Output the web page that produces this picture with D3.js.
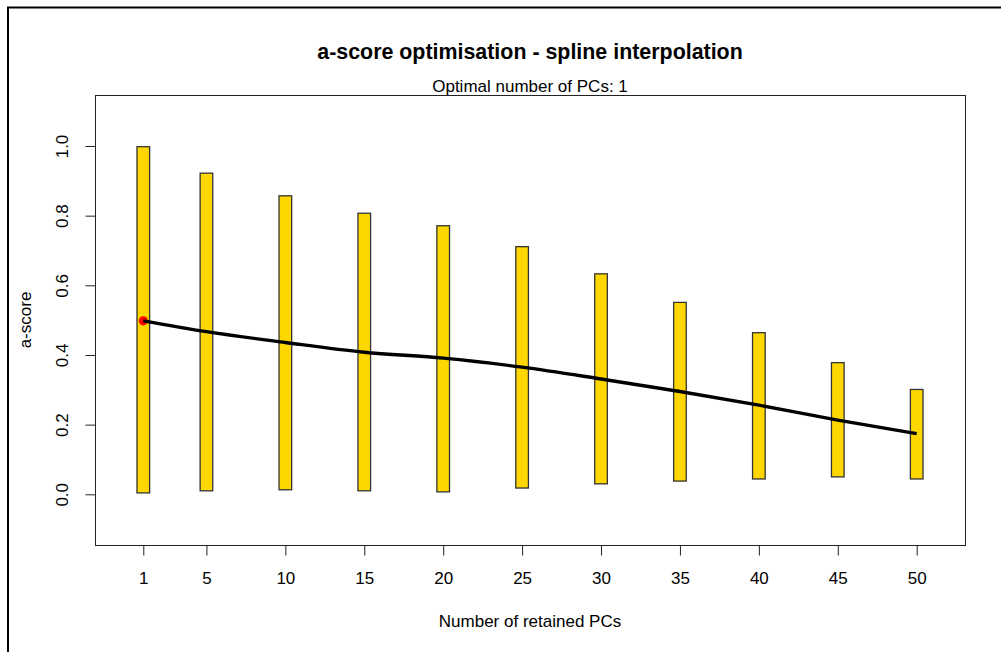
<!DOCTYPE html>
<html>
<head>
<meta charset="utf-8">
<script src="https://cdn.jsdelivr.net/npm/d3@7"></script>
<style>
  html, body { margin: 0; padding: 0; background: #fff; }
  svg { display: block; }
  text { font-family: "Liberation Sans", Arial, sans-serif; fill: #000; }
</style>
</head>
<body>
<script>
// ---- data ----
const pcs = [1, 5, 10, 15, 20, 25, 30, 35, 40, 45, 50];
const barTop = [0.998, 0.922, 0.857, 0.807, 0.771, 0.711, 0.633, 0.551, 0.464, 0.378, 0.301];
const barBottom = [0.004, 0.010, 0.013, 0.010, 0.007, 0.018, 0.030, 0.038, 0.044, 0.050, 0.044];
const splineScore = [0.498, 0.467, 0.436, 0.408, 0.391, 0.365, 0.331, 0.295, 0.256, 0.213, 0.174];
const optimalPC = 1;
const optimalScore = 0.498;
const yTicks = [0.0, 0.2, 0.4, 0.6, 0.8, 1.0];
const xTicks = [1, 5, 10, 15, 20, 25, 30, 35, 40, 45, 50];
const titleText = "a-score optimisation - spline interpolation";
const subtitleText = "Optimal number of PCs: 1";
const xLabel = "Number of retained PCs";
const yLabel = "a-score";

// ---- layout ----
const W = 1001, H = 652;
const box = { left: 95, top: 95, right: 965, bottom: 545 };
const FS = 17;
const svg = d3.select("body").append("svg").attr("width", W).attr("height", H);

// outer frame (top & left)
svg.append("path").attr("d", `M8,${H + 5} L8,7.5 L${W + 5},7.5`)
  .attr("fill", "none").attr("stroke", "#000").attr("stroke-width", 2);

// scales: pixel anchors 1 -> 143.3, 50 -> 916.7 ; 0 -> 494.3, 1 -> 146
const x = d3.scaleLinear().domain([1, 50]).range([143.3, 916.7]);
const y = d3.scaleLinear().domain([0, 1]).range([494.3, 146]);
const halfW = 0.4; // bar half width in PC units

// bars
const bars = pcs.map((p, i) => ({ p, lo: barBottom[i], hi: barTop[i] }));
svg.append("g").selectAll("rect").data(bars).join("rect")
  .attr("x", d => x(d.p - halfW))
  .attr("y", d => y(d.hi))
  .attr("width", d => x(d.p + halfW) - x(d.p - halfW))
  .attr("height", d => y(d.lo) - y(d.hi))
  .attr("fill", "#FFD700")
  .attr("stroke", "#333")
  .attr("stroke-width", 1.3);

// optimal point
svg.append("circle")
  .attr("cx", x(optimalPC)).attr("cy", y(optimalScore)).attr("r", 4.6)
  .attr("fill", "#FF0000");

// spline line
const pts = pcs.map((p, i) => [p, splineScore[i]]);
svg.append("path")
  .datum(pts)
  .attr("fill", "none")
  .attr("stroke", "#000")
  .attr("stroke-width", 3.4)
  .attr("stroke-linejoin", "round")
  .attr("d", d3.line().x(d => x(d[0])).y(d => y(d[1])).curve(d3.curveMonotoneX));

// plot box
svg.append("rect")
  .attr("x", box.left + 0.5).attr("y", box.top + 0.5)
  .attr("width", box.right - box.left).attr("height", box.bottom - box.top)
  .attr("fill", "none").attr("stroke", "#222").attr("stroke-width", 1);

// x axis
const xAxis = svg.append("g").attr("transform", `translate(0,${box.bottom + 0.5})`)
  .call(d3.axisBottom(x).tickValues(xTicks).tickSize(10).tickPadding(16).tickFormat(d3.format("d")));
xAxis.select(".domain").attr("stroke", "#222").attr("d", `M${x(1)},0H${x(50)}`);
xAxis.selectAll(".tick line").attr("stroke", "#222");
xAxis.selectAll("text").attr("font-size", FS).attr("font-family", "Liberation Sans, Arial, sans-serif").attr("fill", "#000");

// y axis
const yAxis = svg.append("g").attr("transform", `translate(${box.left + 0.5},0)`)
  .call(d3.axisLeft(y).tickValues(yTicks).tickSize(10).tickPadding(0).tickFormat(d3.format(".1f")));
yAxis.select(".domain").attr("stroke", "#222").attr("d", `M0,${y(0)}V${y(1)}`);
yAxis.selectAll(".tick line").attr("stroke", "#222");
yAxis.selectAll(".tick text")
  .attr("x", null).attr("dy", null)
  .attr("text-anchor", "middle")
  .attr("transform", "translate(-27.5,0) rotate(-90)")
  .attr("font-size", FS).attr("font-family", "Liberation Sans, Arial, sans-serif").attr("fill", "#000");

// titles
const cx = (box.left + box.right) / 2;
svg.append("text").attr("x", cx).attr("y", 59).attr("text-anchor", "middle")
  .attr("font-size", 21.4).attr("font-weight", "bold").text(titleText);
svg.append("text").attr("x", cx).attr("y", 92).attr("text-anchor", "middle")
  .attr("font-size", FS).text(subtitleText);
svg.append("text").attr("x", cx).attr("y", 627).attr("text-anchor", "middle")
  .attr("font-size", FS).text(xLabel);
svg.append("text")
  .attr("transform", `translate(31,${(box.top + box.bottom) / 2}) rotate(-90)`)
  .attr("text-anchor", "middle").attr("font-size", FS).text(yLabel);
</script>
</body>
</html>
